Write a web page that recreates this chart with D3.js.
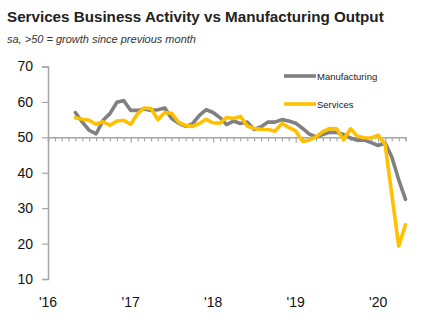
<!DOCTYPE html>
<html>
<head>
<meta charset="utf-8">
<script src="https://cdn.jsdelivr.net/npm/d3@7"></script>
<style>
body { margin: 0; background: #fff; }
svg { display: block; }
</style>
</head>
<body>
<div id="chart"></div>
<script>
// monthly readings, May 2016 .. May 2020
var startMonth = new Date(2016, 4, 1);
var manufacturing = [57, 54.3, 52, 51, 54.8, 56.7, 59.9, 60.4,
    57.6, 57.6, 58, 57.6, 57.8, 58.3, 55.3, 54, 53.1, 53.8, 56.2, 57.8,
    57, 55.5, 53.6, 54.6, 53.9, 54.3, 52.2, 53, 54.3, 54.3, 55, 54.6,
    54, 52.5, 51, 50.1, 50.8, 51.4, 51.4, 50.8, 49.8, 49.2, 49.2, 48.5,
    47.7, 48.4, 44.5, 38, 32.5];
var services = [55.5, 55.1, 54.8, 53.7, 54.4, 53.4, 54.6, 54.8,
    53.7, 56.7, 58.3, 58.1, 55, 57, 56.8, 54.3, 53.3, 53.1, 53.9, 55.1,
    54.1, 54, 55.6, 55.3, 55.9, 53.2, 52.5, 52.3, 52.2, 51.7, 53.9, 52.8,
    51.8, 48.8, 49.2, 50.1, 51.6, 52.5, 52.4, 49.3, 52.4, 50.3, 49.9, 49.8,
    50.6, 48, 34, 19.3, 25.3];
var yTicks = [10, 20, 30, 40, 50, 60, 70];
var yearLabels = ["'16", "'17", "'18", "'19", "'20"];
var seriesNames = ["Manufacturing", "Services"];
var seriesColors = ["#808080", "#FFC000"];

var svgWidth = 443, svgHeight = 326;
var svg = d3.select("#chart").append("svg").attr("width", svgWidth).attr("height", svgHeight);

svg.append("text").attr("x", 7).attr("y", 22)
    .attr("font-family", "Liberation Sans, Arial, sans-serif").attr("font-weight", "bold")
    .attr("font-size", "15.2px").attr("fill", "#222").text("Services Business Activity vs Manufacturing Output");
svg.append("text").attr("x", 7).attr("y", 43)
    .attr("font-family", "Liberation Sans, Arial, sans-serif").attr("font-style", "italic")
    .attr("font-size", "11px").attr("fill", "#333").text("sa, >50 = growth since previous month");

var x = d3.scaleTime().domain([new Date(2016, 0, 1), new Date(2020, 4, 1)]).range([48, 405.5]);
var y = d3.scaleLinear().domain([10, 70]).range([279, 66.5]);

var axisColor = "#a6a6a6";

// y axis
var yAxis = svg.append("g").attr("transform", "translate(48,0)")
    .call(d3.axisLeft(y).tickValues(yTicks).tickSize(6).tickPadding(9).tickFormat(d3.format("d")));
yAxis.select(".domain").attr("stroke", axisColor).attr("stroke-width", 1.5);
yAxis.selectAll(".tick line").attr("stroke", axisColor).attr("stroke-width", 1.2);
yAxis.selectAll("text").attr("font-family", "Liberation Sans, Arial, sans-serif")
    .attr("font-size", "14px").attr("fill", "#111");

// x axis running along the 50 line, month ticks
var months = d3.timeMonth.range(new Date(2016, 0, 1), new Date(2020, 5, 1));
var xAxis = svg.append("g").attr("transform", `translate(0,${y(50)})`)
    .call(d3.axisBottom(x).tickValues(months).tickSize(4).tickFormat(""));
xAxis.select(".domain").attr("stroke", axisColor).attr("stroke-width", 1.5);
xAxis.selectAll(".tick line").attr("stroke", axisColor).attr("stroke-width", 1.2)
    .attr("y2", d => d.getMonth() === 0 ? 5.5 : 4);

// year labels at the bottom
svg.append("g").selectAll("text").data(yearLabels).enter().append("text")
    .attr("x", (d, i) => x(new Date(2016 + i, 0, 1)))
    .attr("y", 307)
    .attr("text-anchor", "middle")
    .attr("font-family", "Liberation Sans, Arial, sans-serif")
    .attr("font-size", "14px").attr("fill", "#111")
    .text(d => d);

var line = d3.line()
    .x((d, i) => x(d3.timeMonth.offset(startMonth, i)))
    .y(d => y(d))
    .curve(d3.curveLinear);

[manufacturing, services].forEach(function(s, k) {
    svg.append("path").datum(s)
        .attr("d", line)
        .attr("fill", "none")
        .attr("stroke", seriesColors[k])
        .attr("stroke-width", 3.6)
        .attr("stroke-linejoin", "round")
        .attr("stroke-linecap", "round");
});

// legend
var legend = svg.append("g");
seriesNames.forEach(function(name, k) {
    var ly = 76 + k * 28;
    legend.append("line").attr("x1", 284).attr("x2", 316).attr("y1", ly).attr("y2", ly)
        .attr("stroke", seriesColors[k]).attr("stroke-width", 3.6);
    legend.append("text").attr("x", 317).attr("y", ly + 3.5)
        .attr("font-family", "Liberation Sans, Arial, sans-serif")
        .attr("font-size", "9.5px").attr("fill", "#222").text(name);
});
</script>
</body>
</html>
